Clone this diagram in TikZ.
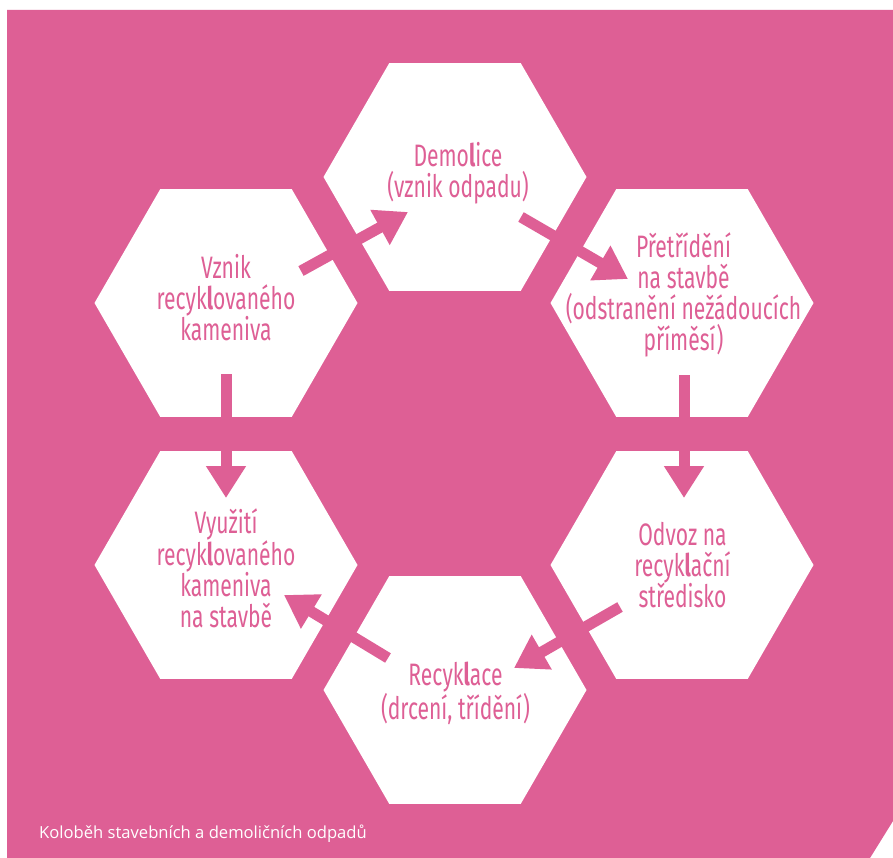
\documentclass[tikz,border=0pt]{standalone}
\usepackage{fontspec}
\usetikzlibrary{shapes.geometric,arrows.meta,calc}
\newfontfamily\hexfont{Fira Sans}[FakeStretch=0.68]
\newfontfamily\capfont{Open Sans}
\definecolor{ruzova}{HTML}{DE5F95}
% tucne l jako v puvodnim pisme
\newcommand{\tlustel}{{\bfseries l}}
\begin{document}
\begin{tikzpicture}[x=1pt,y=-1pt]
    \tikzstyle{hex} = [regular polygon, regular polygon sides=6, minimum size=263pt, inner sep=0pt, fill=white]
    \tikzstyle{popis} = [align=center, text=ruzova, font=\hexfont\fontsize{31}{31}\selectfont]
    \tikzstyle{sipka} = [draw=ruzova, line width=11pt, -{Triangle[length=32pt,width=38pt]}]
    \fill[white] (0,0) rectangle (893,858);
    \fill[ruzova] (7,10) -- (893,10) -- (893,821) -- (870,858) -- (7,858) -- cycle;
    \useasboundingbox (0,0) rectangle (893,858);
    % sest sestiuhelniku v kruhu
    \node[hex] (demolice) at (455,177) {};
    \node[hex] (pretrideni) at (682,303) {};
    \node[hex] (odvoz) at (682,565) {};
    \node[hex] (recyklace) at (455,690) {};
    \node[hex] (vyuziti) at (226,565) {};
    \node[hex] (vznik) at (226,303) {};
    % texty
    \node[popis] (t-demolice) at ($(demolice)+(3,-4)$) {Demo\tlustel ice\\(vznik odpadu)};
    \node[popis] (t-pretrideni) at ($(pretrideni)+(1.5,-8)$) {Přetřídění\\na stavbě\\(odstranění nežádoucích\\příměsí)};
    \node[popis] (t-odvoz) at ($(odvoz)+(0.5,0)$) {Odvoz na\\recyk\tlustel ační\\středisko};
    \node[popis] (t-recyklace) at ($(recyklace)+(0.5,3.5)$) {Recyk\tlustel ace\\(drcení, třídění)};
    \node[popis] (t-vyuziti) at ($(vyuziti)+(0,3)$) {Využití\\recyk\tlustel ovaného\\kameniva\\na stavbě};
    \node[popis] (t-vznik) at ($(vznik)+(0,-5.5)$) {Vznik\\recyk\tlustel ovaného\\kameniva};
    % sipky
    \draw[sipka] ($(vznik)+(75,-32)$) -- ($(demolice)+(-47,35)$);
    \draw[sipka] ($(demolice)+(66,40)$) -- ($(pretrideni)+(-54,-24)$);
    \draw[sipka] ($(pretrideni)+(2,72)$) -- ($(odvoz)+(2,-67)$);
    \draw[sipka] ($(odvoz)+(-62,42)$) -- ($(recyklace)+(59,-22)$);
    \draw[sipka] ($(recyklace)+(-67,-32)$) -- ($(vyuziti)+(58,30)$);
    \draw[sipka] ($(vznik)+(0,71)$) -- ($(vyuziti)+(0,-67)$);
    \node[anchor=base west, text=white, inner sep=0pt, font=\capfont\fontsize{16.6}{19}\selectfont] (nazev) at (39,838) {Koloběh stavebních a demoličních odpadů};
\end{tikzpicture}
\end{document}
